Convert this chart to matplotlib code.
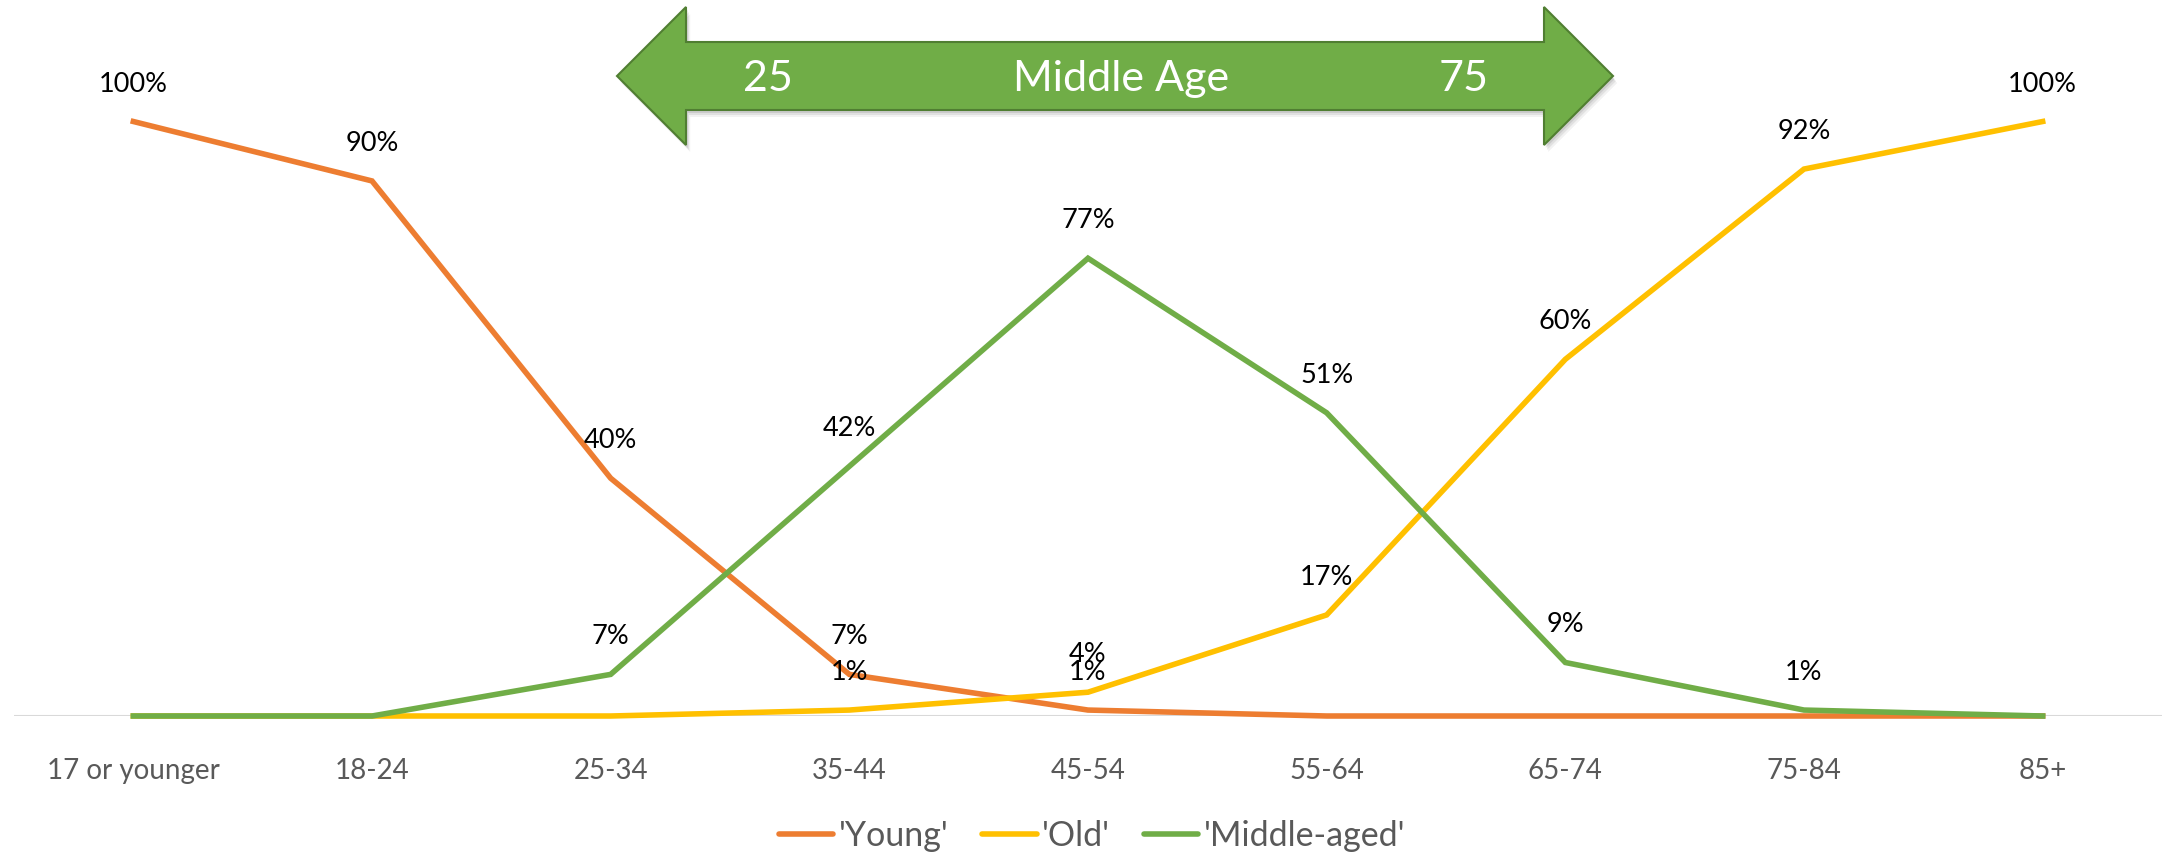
import matplotlib

matplotlib.use("Agg")
import matplotlib.pyplot as plt
from matplotlib.patches import Polygon

plt.rcParams["font.family"] = ["Lato", "DejaVu Sans"]

AGE_GROUPS = ["17 or younger", "18-24", "25-34", "35-44", "45-54",
              "55-64", "65-74", "75-84", "85+"]
YOUNG = [100, 90, 40, 7, 1, 0, 0, 0, 0]
OLD = [0, 0, 0, 1, 4, 17, 60, 92, 100]
MIDDLE = [0, 0, 7, 42, 77, 51, 9, 1, 0]

ORANGE = "#ED7D31"
YELLOW = "#FFC000"
GREEN = "#70AD47"
GREY = "#595959"

W, H = 2165, 858
fig = plt.figure(figsize=(W / 100, H / 100), dpi=100)

# axes placed so that 0% sits on pixel row 716 and 100% on row 121
bottom = (H - 716) / H
h100 = (716 - 121.5) / H
ax = fig.add_axes([14 / W, bottom, (2162 - 14) / W, h100 * 1.2])
ax.set_xlim(-0.5, len(AGE_GROUPS) - 0.5)
ax.set_ylim(0, 120)

x = list(range(len(AGE_GROUPS)))
series = [("'Young'", YOUNG, ORANGE), ("'Old'", OLD, YELLOW),
          ("'Middle-aged'", MIDDLE, GREEN)]
for name, vals, colour in series:
    ax.plot(x, vals, color=colour, linewidth=4, label=name,
            solid_joinstyle="miter", clip_on=False, zorder=3)
    # zero values carry no label, as in the original
    for xi, v in zip(x, vals):
        if v > 0:
            ax.annotate(f"{v}%", (xi, v), xytext=(0, 27),
                        textcoords="offset points", ha="center", va="center",
                        fontsize=19.5, color="black", zorder=4)

ax.axhline(0, color="#D9D9D9", linewidth=1.5, zorder=1)
for side in ["top", "right", "left", "bottom"]:
    ax.spines[side].set_visible(False)
ax.set_yticks([])
ax.set_xticks(x)
ax.set_xticklabels(AGE_GROUPS, fontsize=20, color=GREY)
ax.tick_params(axis="x", length=0, pad=30)

leg = ax.legend(loc="center", bbox_to_anchor=(1092 / W, 22 / H),
                bbox_transform=fig.transFigure, ncol=3, frameon=False,
                fontsize=24.5, labelcolor=GREY, handlelength=1.6,
                handletextpad=0.15, columnspacing=1.0)
for line in leg.get_lines():
    line.set_solid_capstyle("round")


# double-headed "Middle Age" arrow, drawn in pixel coordinates
def px(pts):
    return [(px_x / W, 1 - px_y / H) for px_x, px_y in pts]


cy = 76
arrow = [(617, cy), (686, cy - 69), (686, cy - 34), (1544, cy - 34),
         (1544, cy - 69), (1613, cy), (1544, cy + 69), (1544, cy + 34),
         (686, cy + 34), (686, cy + 69)]
for k, a in [(7, 0.05), (5, 0.07), (3, 0.09)]:
    shadow = [(xx + k * 0.6, yy + k) for xx, yy in arrow]
    fig.patches.append(Polygon(px(shadow), closed=True, transform=fig.transFigure,
                               facecolor="black", edgecolor="none", alpha=a))
fig.patches.append(Polygon(px(arrow), closed=True, transform=fig.transFigure,
                           facecolor=GREEN, edgecolor="#507E32", linewidth=1.5))

for label, xp in [("25", 768), ("Middle Age", 1121), ("75", 1464)]:
    fig.text(xp / W, 1 - 79 / H, label, ha="center", va="center",
             fontsize=31, color="white")

fig.savefig("out.png", dpi=100)
